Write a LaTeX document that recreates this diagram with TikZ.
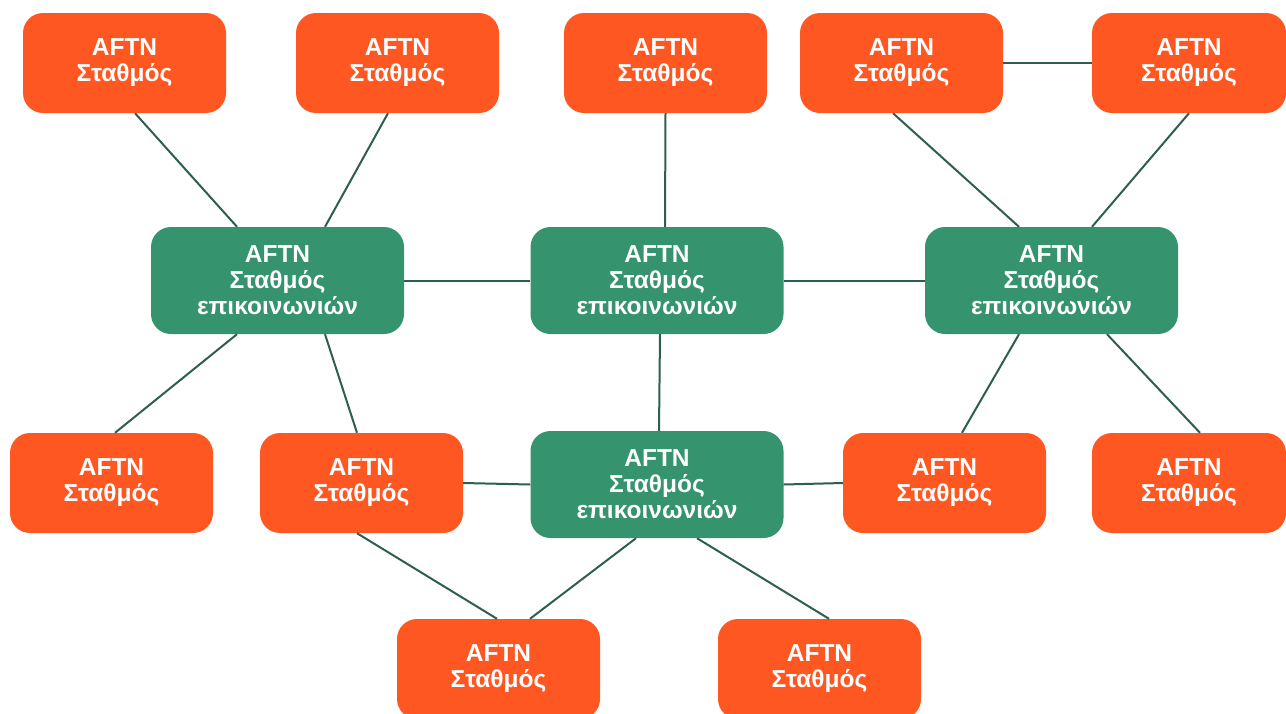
\documentclass[tikz,border=0pt]{standalone}
\usepackage{fontspec}
\setmainfont{Liberation Sans}
\definecolor{station}{HTML}{FF5722}
\definecolor{hub}{HTML}{35936E}
\definecolor{link}{HTML}{2E5E4E}
\begin{document}
\begin{tikzpicture}[x=1pt,y=-1pt,
  box/.style={rounded corners=20pt,text=white,align=center,
    font=\fontsize{24.5}{26}\selectfont\bfseries,inner sep=0pt},
  stationbox/.style={box,fill=station,minimum width=203pt,minimum height=100pt},
  hubbox/.style={box,fill=hub,minimum width=253pt,minimum height=107pt},
  wire/.style={draw=link,line width=2pt}]
\useasboundingbox (0,0) rectangle (1286,713);
\clip (0,0) rectangle (1286,713);

% hubs
\node[hubbox] (g1) at (277.5,280.5) {AFTN\\Σταθμός\\επικοινωνιών};
\node[hubbox] (g2) at (657,280.5) {AFTN\\Σταθμός\\επικοινωνιών};
\node[hubbox] (g3) at (1051.5,280.5) {AFTN\\Σταθμός\\επικοινωνιών};
\node[hubbox] (g4) at (657,484.5) {AFTN\\Σταθμός\\επικοινωνιών};

% stations
\node[stationbox] (o1) at (124.5,63) {AFTN\\Σταθμός};
\node[stationbox] (o2) at (397.5,63) {AFTN\\Σταθμός};
\node[stationbox] (o3) at (665.5,63) {AFTN\\Σταθμός};
\node[stationbox] (o4) at (901.5,63) {AFTN\\Σταθμός};
\node[stationbox,minimum width=194pt] (o5) at (1189,63) {AFTN\\Σταθμός};
\node[stationbox] (o6) at (111.5,483) {AFTN\\Σταθμός};
\node[stationbox] (o7) at (361.5,483) {AFTN\\Σταθμός};
\node[stationbox] (o8) at (944.5,483) {AFTN\\Σταθμός};
\node[stationbox,minimum width=194pt] (o9) at (1189,483) {AFTN\\Σταθμός};
\node[stationbox] (o10) at (498.5,669) {AFTN\\Σταθμός};
\node[stationbox] (o11) at (819.5,669) {AFTN\\Σταθμός};

% links
\draw[wire] ([xshift=10.5pt]o1.south) -- ([xshift=-40.5pt]g1.north);
\draw[wire] ([xshift=-9.5pt]o2.south) -- ([xshift=47.5pt]g1.north);
\draw[wire] (o3.south) -- ([xshift=8pt]g2.north);
\draw[wire] ([xshift=-8.5pt]o4.south) -- ([xshift=-32.5pt]g3.north);
\draw[wire] (o5.south) -- ([xshift=40.5pt]g3.north);
\draw[wire] (o4.east) -- (o5.west);
\draw[wire] (g1.east) -- (g2.west);
\draw[wire] (g2.east) -- (g3.west);
\draw[wire] ([xshift=-40.5pt]g1.south) -- ([xshift=3.5pt]o6.north);
\draw[wire] ([xshift=47.5pt]g1.south) -- ([xshift=-4.5pt]o7.north);
\draw[wire] ([xshift=3pt]g2.south) -- ([xshift=2pt]g4.north);
\draw[wire] ([xshift=-32.5pt]g3.south) -- ([xshift=17.5pt]o8.north);
\draw[wire] ([xshift=55.5pt]g3.south) -- ([xshift=11pt]o9.north);
\draw[wire] (o7.east) -- (g4.west);
\draw[wire] (g4.east) -- (o8.west);
\draw[wire] ([xshift=-4.5pt]o7.south) -- ([xshift=-1.5pt]o10.north);
\draw[wire] ([xshift=-21pt]g4.south) -- ([xshift=31.5pt]o10.north);
\draw[wire] ([xshift=40pt]g4.south) -- ([xshift=9.5pt]o11.north);
\end{tikzpicture}
\end{document}
